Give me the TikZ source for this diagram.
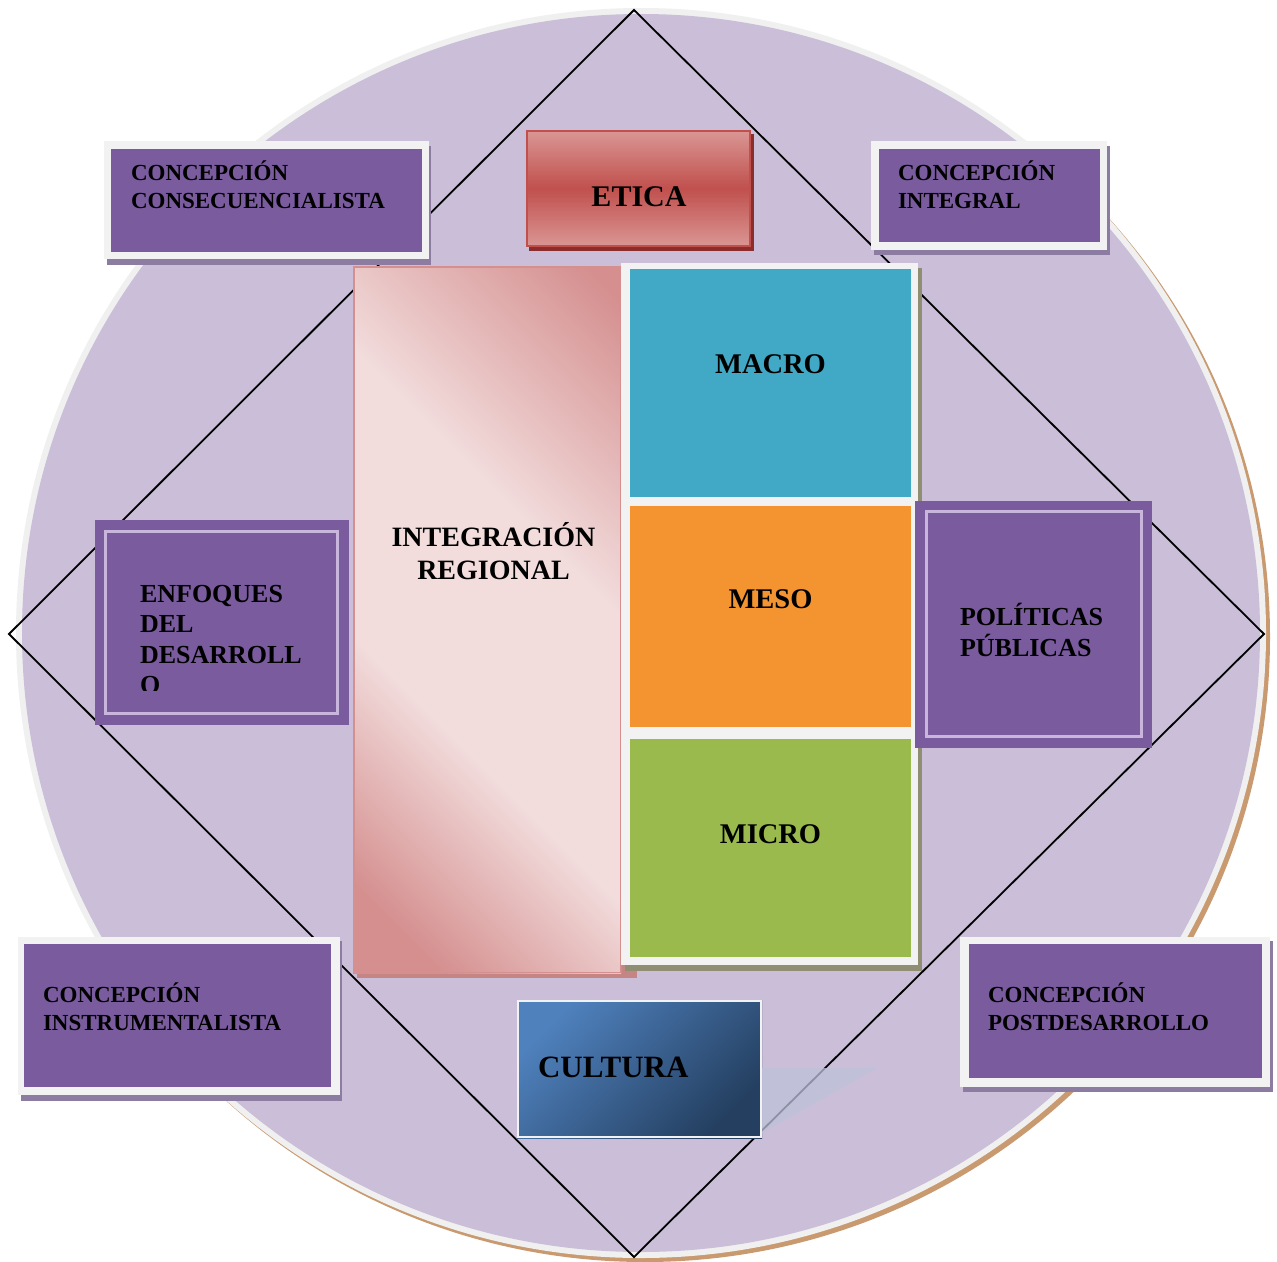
\documentclass[tikz,border=0pt]{standalone}
\usepackage{fontspec}
\setmainfont{Liberation Serif}
\definecolor{circfill}{HTML}{CBBED8}
\definecolor{ringcol}{HTML}{F0F0F0}
\definecolor{circshadow}{HTML}{C9996F}
\definecolor{purp}{HTML}{7A5B9E}
\definecolor{framecol}{HTML}{F2F2F2}
\definecolor{boxshadow}{HTML}{8C7CA2}
\definecolor{lavline}{HTML}{C8B6DC}
\definecolor{cmacro}{HTML}{41A8C5}
\definecolor{cmeso}{HTML}{F39430}
\definecolor{cmicro}{HTML}{9BBA4E}
\definecolor{gridshadow}{HTML}{8F8D72}
\definecolor{pinkdark}{HTML}{D58F8F}
\definecolor{pinklight}{HTML}{F2DCDC}
\definecolor{pinkshadow}{HTML}{C58584}
\definecolor{etlight}{HTML}{DA9694}
\definecolor{etred}{HTML}{C0504D}
\definecolor{etshadow}{HTML}{8C2D2B}
\definecolor{cullight}{HTML}{4F81BD}
\definecolor{culdark}{HTML}{243F60}
\definecolor{trianglecol}{HTML}{BEC2DA}
\pgfdeclareverticalshading{pinkband}{100bp}{color(0bp)=(pinkdark); color(21bp)=(pinkdark); color(39bp)=(pinklight); color(60bp)=(pinklight); color(83bp)=(pinkdark); color(100bp)=(pinkdark)}
\begin{document}
\begin{tikzpicture}[x=1pt,y=-1pt,
  every node/.style={inner sep=0pt, outer sep=0pt, text=black},
  conclbl/.style={font=\bfseries\fontsize{23}{28}\selectfont, align=left, anchor=base west},
  biglbl/.style={font=\bfseries\fontsize{26}{30.5}\selectfont, align=left, anchor=base west},
  levellbl/.style={font=\bfseries\fontsize{28.5}{33}\selectfont, anchor=base}]
\useasboundingbox (0,0) rectangle (1277,1261);
\fill[white] (0,0) rectangle (1277,1261);
% circle
\fill[circshadow] (645,637) circle[radius=625pt];
\fill[ringcol] (641,633) circle[radius=625pt];
\fill[circfill] (641,633) circle[radius=619pt];
% diamond
\draw[black, line width=1.8pt] (634,10) -- (1264,634) -- (634,1257) -- (9,634) -- cycle;
% concepcion consecuencialista
\fill[boxshadow] (107,146) rectangle (431,265);
\fill[framecol] (104,141) rectangle (429,259);
\fill[purp] (111,149) rectangle (422,252);
% concepcion integral
\fill[boxshadow] (874,146) rectangle (1110,255);
\fill[framecol] (871,141) rectangle (1107,250);
\fill[purp] (879,149) rectangle (1100,242);
% concepcion instrumentalista
\fill[boxshadow] (21,941) rectangle (342,1101);
\fill[framecol] (18,937) rectangle (340,1095);
\fill[purp] (24,944) rectangle (331,1087);
% concepcion postdesarrollo
\fill[boxshadow] (963,941) rectangle (1273,1092);
\fill[framecol] (960,937) rectangle (1270,1087);
\fill[purp] (969,944) rectangle (1262,1078);
% etica
\fill[etshadow] (529,134) rectangle (754,251);
\shade[top color=etlight, bottom color=etlight, middle color=etred] (527,131) rectangle (750,246);
\draw[etred, line width=2pt] (527,131) rectangle (750,246);
% integracion regional
\fill[pinkshadow] (357,271) rectangle (637,978);
\shade[shading=pinkband, shading angle=-45] (353,266) rectangle (621,973);
\draw[pinkdark, line width=1.5pt] (353.75,266.75) rectangle (620.25,972.25);
% macro / meso / micro
\fill[gridshadow] (625,268) rectangle (922,971);
\fill[framecol] (621,263) rectangle (918,965);
\fill[cmacro] (630,269) rectangle (911,497);
\fill[cmeso] (630,506) rectangle (911,727);
\fill[cmicro] (630,739) rectangle (911,957);
% enfoques
\fill[purp] (95,520) rectangle (349,725);
\draw[lavline, line width=3pt] (105.5,531.5) rectangle (337.5,713.5);
% politicas
\fill[purp] (915,501) rectangle (1152,748);
\draw[lavline, line width=3pt] (926,511.5) rectangle (1141.5,736.5);
% cultura
\shade[top color=cullight, bottom color=culdark, shading angle=45] (517,1000) rectangle (762,1138);
\draw[framecol, line width=2pt] (518,1001) rectangle (761,1137);
\fill[trianglecol, opacity=0.75] (762,1068) -- (877,1068) -- (762,1133) -- cycle;
% texts (base anchor = baseline of last line)
\node[conclbl] (tconsec) at (131,208) {CONCEPCIÓN\\CONSECUENCIALISTA};
\node[conclbl] (tintegral) at (898,208) {CONCEPCIÓN\\INTEGRAL};
\node[conclbl] (tinstr) at (43,1030) {CONCEPCIÓN\\INSTRUMENTALISTA};
\node[conclbl] (tpost) at (988,1030) {CONCEPCIÓN\\POSTDESARROLLO};
\node[font=\bfseries\fontsize{30}{34}\selectfont, anchor=base] (tetica) at (639,206) {ETICA};
\node[font=\bfseries\fontsize{28}{33}\selectfont, align=center, anchor=base] (tintreg) at (493.5,579) {INTEGRACIÓN\\REGIONAL};
\node[levellbl] (tmacro) at (770.5,373) {MACRO};
\node[levellbl] (tmeso) at (770.5,608) {MESO};
\node[levellbl] (tmicro) at (770.5,843) {MICRO};
\begin{scope}
\clip (107,533) rectangle (336,690);
\node[biglbl] (tenfoques) at (140,693.5) {ENFOQUES\\DEL\\DESARROLL\\O};
\end{scope}
\node[biglbl] (tpoliticas) at (960,656) {POLÍTICAS\\PÚBLICAS};
\node[font=\bfseries\fontsize{31}{35}\selectfont, anchor=base west] (tcultura) at (538,1077) {CULTURA};
\end{tikzpicture}
\end{document}
